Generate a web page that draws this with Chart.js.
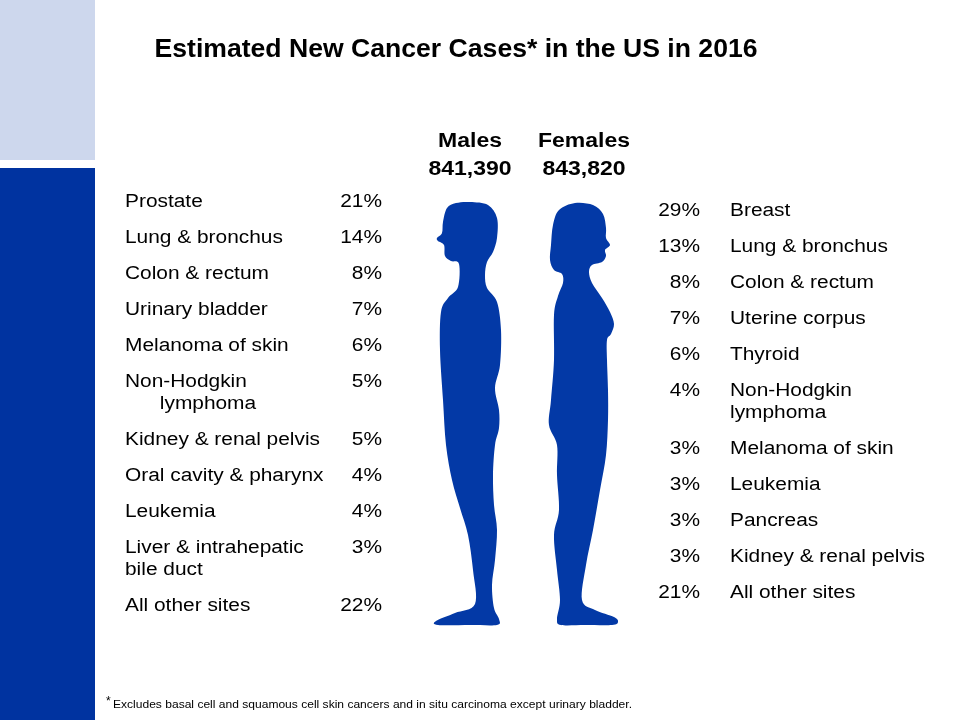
<!DOCTYPE html>
<html>
<head>
<meta charset="utf-8">
<title>Estimated New Cancer Cases in the US in 2016</title>
<script src="https://cdn.jsdelivr.net/npm/chart.js@4.4.1/dist/chart.umd.min.js"></script>
<style>
    html, body { margin: 0; padding: 0; background: #fff; }
    #wrap { width: 960px; height: 720px; }
</style>
</head>
<body>
<div id="wrap"><canvas id="chart" width="960" height="720"></canvas></div>
<script>
// Chart data
const maleSites = ['Prostate', 'Lung & bronchus', 'Colon & rectum', 'Urinary bladder', 'Melanoma of skin',
    ['Non-Hodgkin', '      lymphoma'], 'Kidney & renal pelvis', 'Oral cavity & pharynx', 'Leukemia',
    ['Liver & intrahepatic', 'bile duct'], 'All other sites'];
const malePercent = [21, 14, 8, 7, 6, 5, 5, 4, 4, 3, 22];

const femaleSites = ['Breast', 'Lung & bronchus', 'Colon & rectum', 'Uterine corpus', 'Thyroid',
    ['Non-Hodgkin', 'lymphoma'], 'Melanoma of skin', 'Leukemia', 'Pancreas', 'Kidney & renal pelvis', 'All other sites'];
const femalePercent = [29, 13, 8, 7, 6, 4, 3, 3, 3, 3, 21];

const groupLabels = ['Males', 'Females'];
const groupTotals = [841390, 843820];

const titleText = 'Estimated New Cancer Cases* in the US in 2016';
const footnoteText = 'Excludes basal cell and squamous cell skin cancers and in situ carcinoma except urinary bladder.';

// Layout
const FONT = "'Liberation Sans', Arial, sans-serif";
const ROW_STEP = 36;
const LINE_STEP = 22;
const BODY_STRETCH = 1.16;
const DARK_BLUE = '#0033a0';
const FIGURE_BLUE = '#0339a6';

// baselines of each table row, a wrapped label pushes the next rows down
function rowBaselines(sites, first) {
    const out = [];
    let y = first;
    sites.forEach(s => {
        out.push(y);
        const lines = Array.isArray(s) ? s.length : 1;
        y += ROW_STEP + (lines - 1) * LINE_STEP;
    });
    return out;
}

const maleRows = rowBaselines(maleSites, 207);
const femaleRows = rowBaselines(femaleSites, 216);

// Silhouette outlines (decoration)
const maleFigure = [
    [470,202],[488,205],[497,218],[497,238],[493,252],[487,262],[485,275],[487,288],[497,302],[501,330],
    [500,365],[495,388],[499,410],[499,428],[495,445],[493,475],[494,505],[497,530],[495,560],[492,585],
    [494,608],[499,619],[497,625],[470,625],[438,625],[436,621],[455,613],[475,604],[473,570],[468,535],
    [460,508],[452,480],[446,445],[443,400],[440,350],[441,312],[448,298],[458,287],[459,264],[451,261],
    [445,256],[444,245],[438,241],[437,238],[442,233],[443,222],[447,208],[456,203]
];
const femaleFigure = [
    [575,203],[593,205],[603,214],[606,228],[606,238],[610,245],[605,250],[606,256],[602,262],[592,265],
    [589,272],[592,283],[602,298],[610,312],[614,324],[611,334],[607,340],[607,360],[608,390],[608,420],
    [606,455],[600,490],[593,530],[586,565],[582,600],[595,610],[614,617],[618,622],[612,625],[585,625],
    [561,625],[557,619],[560,600],[557,570],[554,535],[559,510],[557,475],[557,445],[549,425],[551,400],
    [554,360],[554,315],[558,296],[563,283],[562,274],[554,270],[550,260],[551,245],[553,225],[559,210]
];

function smoothShape(ctx, pts) {
    const n = pts.length;
    ctx.beginPath();
    ctx.moveTo(pts[0][0], pts[0][1]);
    for (let i = 0; i < n; i++) {
        const p0 = pts[(i - 1 + n) % n], p1 = pts[i], p2 = pts[(i + 1) % n], p3 = pts[(i + 2) % n];
        ctx.bezierCurveTo(
            p1[0] + (p2[0] - p0[0]) / 6, p1[1] + (p2[1] - p0[1]) / 6,
            p2[0] - (p3[0] - p1[0]) / 6, p2[1] - (p3[1] - p1[1]) / 6,
            p2[0], p2[1]);
    }
    ctx.closePath();
    ctx.fill();
}

function stretchedText(ctx, text, x, y, align, sx) {
    ctx.save();
    ctx.translate(x, y);
    ctx.scale(sx, 1);
    ctx.textAlign = align;
    ctx.fillText(text, 0, 0);
    ctx.restore();
}

const slidePlugin = {
    id: 'slide',
    beforeDraw(chart) {
        const ctx = chart.ctx;
        ctx.save();
        ctx.fillStyle = '#ffffff';
        ctx.fillRect(0, 0, chart.width, chart.height);
        // side bands
        ctx.fillStyle = '#cdd7ed';
        ctx.fillRect(0, 0, 95, 160);
        ctx.fillStyle = DARK_BLUE;
        ctx.fillRect(0, 168, 95, chart.height - 168);
        ctx.restore();
    },
    afterDatasetsDraw(chart) {
        const ctx = chart.ctx;
        ctx.save();

        // figures
        ctx.fillStyle = FIGURE_BLUE;
        smoothShape(ctx, maleFigure);
        smoothShape(ctx, femaleFigure);

        ctx.fillStyle = '#000';
        ctx.textBaseline = 'alphabetic';

        // title
        ctx.font = 'bold 26px ' + FONT;
        const tw = ctx.measureText(titleText).width;
        stretchedText(ctx, titleText, 456, 57, 'center', 603 / tw);

        // group headers
        ctx.font = 'bold 20px ' + FONT;
        const headX = [470, 584];
        groupLabels.forEach((g, i) => {
            stretchedText(ctx, g, headX[i], 147, 'center', 1.15);
            stretchedText(ctx, groupTotals[i].toLocaleString('en-US'), headX[i], 175, 'center', 1.15);
        });

        // tables
        ctx.font = '18px ' + FONT;
        const sides = [
            { meta: chart.getDatasetMeta(0), sites: maleSites, values: malePercent, labelX: 125 },
            { meta: chart.getDatasetMeta(1), sites: femaleSites, values: femalePercent, labelX: 730 }
        ];
        sides.forEach(side => {
            side.meta.data.forEach((pt, i) => {
                stretchedText(ctx, side.values[i] + '%', pt.x, pt.y, 'right', BODY_STRETCH);
                const lines = Array.isArray(side.sites[i]) ? side.sites[i] : [side.sites[i]];
                lines.forEach((line, k) => {
                    stretchedText(ctx, line, side.labelX, pt.y + k * LINE_STEP, 'left', BODY_STRETCH);
                });
            });
        });

        // footnote
        ctx.font = '12px ' + FONT;
        ctx.textAlign = 'left';
        ctx.fillText('*', 106, 705);
        ctx.font = '11px ' + FONT;
        const fw = ctx.measureText(footnoteText).width;
        stretchedText(ctx, footnoteText, 113, 708, 'left', 519 / fw);

        ctx.restore();
    }
};

new Chart(document.getElementById('chart'), {
    type: 'scatter',
    data: {
        datasets: [
            { label: groupLabels[0], data: malePercent.map((v, i) => ({ x: 382, y: maleRows[i] })), pointRadius: 0 },
            { label: groupLabels[1], data: femalePercent.map((v, i) => ({ x: 700, y: femaleRows[i] })), pointRadius: 0 }
        ]
    },
    options: {
        responsive: false,
        animation: false,
        devicePixelRatio: 1,
        layout: { padding: 0 },
        plugins: {
            legend: { display: false },
            tooltip: { enabled: false }
        },
        scales: {
            x: { type: 'linear', min: 0, max: 960, display: false },
            y: { type: 'linear', min: 0, max: 720, reverse: true, display: false }
        }
    },
    plugins: [slidePlugin]
});
</script>
</body>
</html>
